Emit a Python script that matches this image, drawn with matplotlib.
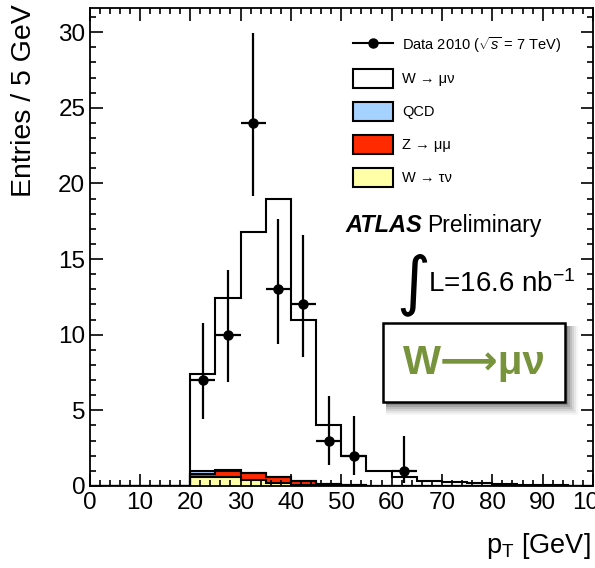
import numpy as np
import matplotlib
matplotlib.use("Agg")
import matplotlib.pyplot as plt
from matplotlib.lines import Line2D
from matplotlib.patches import Rectangle, Patch

plt.rcParams['font.family'] = ['Liberation Sans', 'DejaVu Sans']
plt.rcParams['mathtext.fontset'] = 'custom'
plt.rcParams['mathtext.rm'] = 'Liberation Sans'
plt.rcParams['mathtext.it'] = 'Liberation Sans:italic'
plt.rcParams['mathtext.bf'] = 'Liberation Sans:bold'

# 5 GeV bins from 0 to 100 GeV
bin_edges = np.arange(0, 105, 5)

# Stacked expectations per bin (entries / 5 GeV)
w_taunu = [0, 0, 0, 0, 0.60, 0.60, 0.39, 0.20, 0.07, 0.02, 0.01, 0, 0, 0, 0, 0, 0, 0, 0, 0]
z_mumu = [0, 0, 0, 0, 0.22, 0.40, 0.44, 0.40, 0.26, 0.14, 0.04, 0.01, 0, 0, 0, 0, 0, 0, 0, 0]
qcd = [0, 0, 0, 0, 0.20, 0.05, 0.02, 0.01, 0, 0, 0, 0, 0, 0, 0, 0, 0, 0, 0, 0]
w_munu = [0, 0, 0, 0, 6.38, 11.35, 15.95, 18.39, 10.67, 3.84, 1.95, 0.99,
          0.60, 0.35, 0.25, 0.18, 0.12, 0.08, 0.05, 0.03]

# Data 2010 with asymmetric Poisson errors
data_x = [22.5, 27.5, 32.5, 37.5, 42.5, 47.5, 52.5, 62.5]
data_y = [7, 10, 24, 13, 12, 3, 2, 1]
data_err_lo = [2.58, 3.11, 4.86, 3.61, 3.46, 1.63, 1.29, 0.83]
data_err_hi = [3.77, 4.26, 5.93, 4.67, 4.58, 2.92, 2.64, 2.30]

W, H = 595, 568
fig = plt.figure(figsize=(W / 100, H / 100), dpi=100)
ax = fig.add_axes([89.5 / W, 1 - 486 / H, (593 - 89.5) / W, (486 - 8) / H])

# stack order bottom -> top
layers = [
    (w_taunu, '#ffffa8'),
    (z_mumu, '#ff2a00'),
    (qcd, '#a6d2ff'),
    (w_munu, 'white'),
]
cum = np.zeros(len(bin_edges) - 1)
tops = []
for vals, col in layers:
    cum = cum + np.asarray(vals)
    tops.append((cum.copy(), col))

# draw the cumulative histograms from the tallest down, each filled from zero
for vals, col in reversed(tops):
    ax.stairs(vals, bin_edges, baseline=0, fill=True, facecolor=col,
              edgecolor='none', zorder=2)
    ax.stairs(vals, bin_edges, baseline=0, fill=False, color='black',
              lw=1.5, zorder=2.5)

ax.errorbar(data_x, data_y, yerr=[data_err_lo, data_err_hi], xerr=2.5,
            fmt='o', color='black', ms=6.5, elinewidth=1.6, capsize=0, zorder=4)

ax.set_xlim(0, 100)
ax.set_ylim(0, 31.6)
ax.set_xticks(np.arange(0, 101, 10))
ax.set_xticks(np.arange(0, 101, 2), minor=True)
ax.set_yticks(np.arange(0, 31, 5))
ax.set_yticks(np.arange(0, 32, 1), minor=True)
ax.tick_params(which='both', direction='in', top=True, right=True, width=1.2)
ax.tick_params(which='major', length=9, labelsize=17.5, pad=3)
ax.tick_params(which='minor', length=4.5)
ax.tick_params(axis='x', pad=4)
for s in ax.spines.values():
    s.set_linewidth(1.3)
ax.set_axisbelow(False)

fig.text(24 / W, 1 - 4 / H, 'Entries / 5 GeV', rotation=90, ha='center',
         va='top', fontsize=20.5)
fig.text(591 / W, 1 - 553 / H, r'p$_\mathrm{T}$ [GeV]', ha='right',
         va='baseline', fontsize=19.5)

# legend
handles = [
    Line2D([0], [0], color='black', lw=1.5, marker='o', ms=6.5),
    Patch(facecolor='white', edgecolor='black', lw=1.5),
    Patch(facecolor='#a6d2ff', edgecolor='black', lw=1.5),
    Patch(facecolor='#ff2a00', edgecolor='black', lw=1.5),
    Patch(facecolor='#ffffa8', edgecolor='black', lw=1.5),
]
labels = [r'Data 2010 ($\sqrt{s}$ = 7 TeV)', 'W → μν', 'QCD', 'Z → μμ', 'W → τν']
fig.legend(handles, labels, loc='upper left',
           bbox_to_anchor=(353 / W, 1 - 35 / H), frameon=False,
           fontsize=10.5, handlelength=2.75, handleheight=1.6,
           handletextpad=0.6, labelspacing=0.98, borderpad=0,
           borderaxespad=0)

fig.text(345 / W, 1 - 232 / H, 'ATLAS', fontsize=17, weight='bold',
         style='italic', va='baseline')
fig.text(427 / W, 1 - 232 / H, 'Preliminary', fontsize=16.5, va='baseline')
fig.text(396 / W, 1 - 302 / H, '∫', fontsize=47, va='baseline',
         family=['DejaVu Sans'])
fig.text(428 / W, 1 - 292 / H, r'L=16.6 nb$^{\mathregular{-1}}$', fontsize=20,
         va='baseline')

# boxed channel label with soft drop shadow
bx0, by0, bx1, by1 = 383, 323, 565, 402
for i, a in enumerate([0.04, 0.06, 0.08, 0.10, 0.13, 0.16]):
    off = 8 - i
    grow = 5 - i
    fig.add_artist(Rectangle(((bx0 + off - grow) / W, 1 - (by1 + off + grow) / H),
                             (bx1 - bx0 + 2 * grow) / W,
                             (by1 - by0 + 2 * grow) / H,
                             transform=fig.transFigure, facecolor='black',
                             edgecolor='none', alpha=a, zorder=5))
fig.add_artist(Rectangle((bx0 / W, 1 - by1 / H), (bx1 - bx0) / W,
                         (by1 - by0) / H, transform=fig.transFigure,
                         facecolor='white', edgecolor='black', lw=1.8,
                         zorder=6))
fig.text((bx0 + bx1) / 2 / W, 1 - 363 / H, 'W⟶μν', fontsize=29,
         weight='bold', color='#77933c', ha='center', va='center', zorder=7)

fig.savefig('out.png', dpi=100)
